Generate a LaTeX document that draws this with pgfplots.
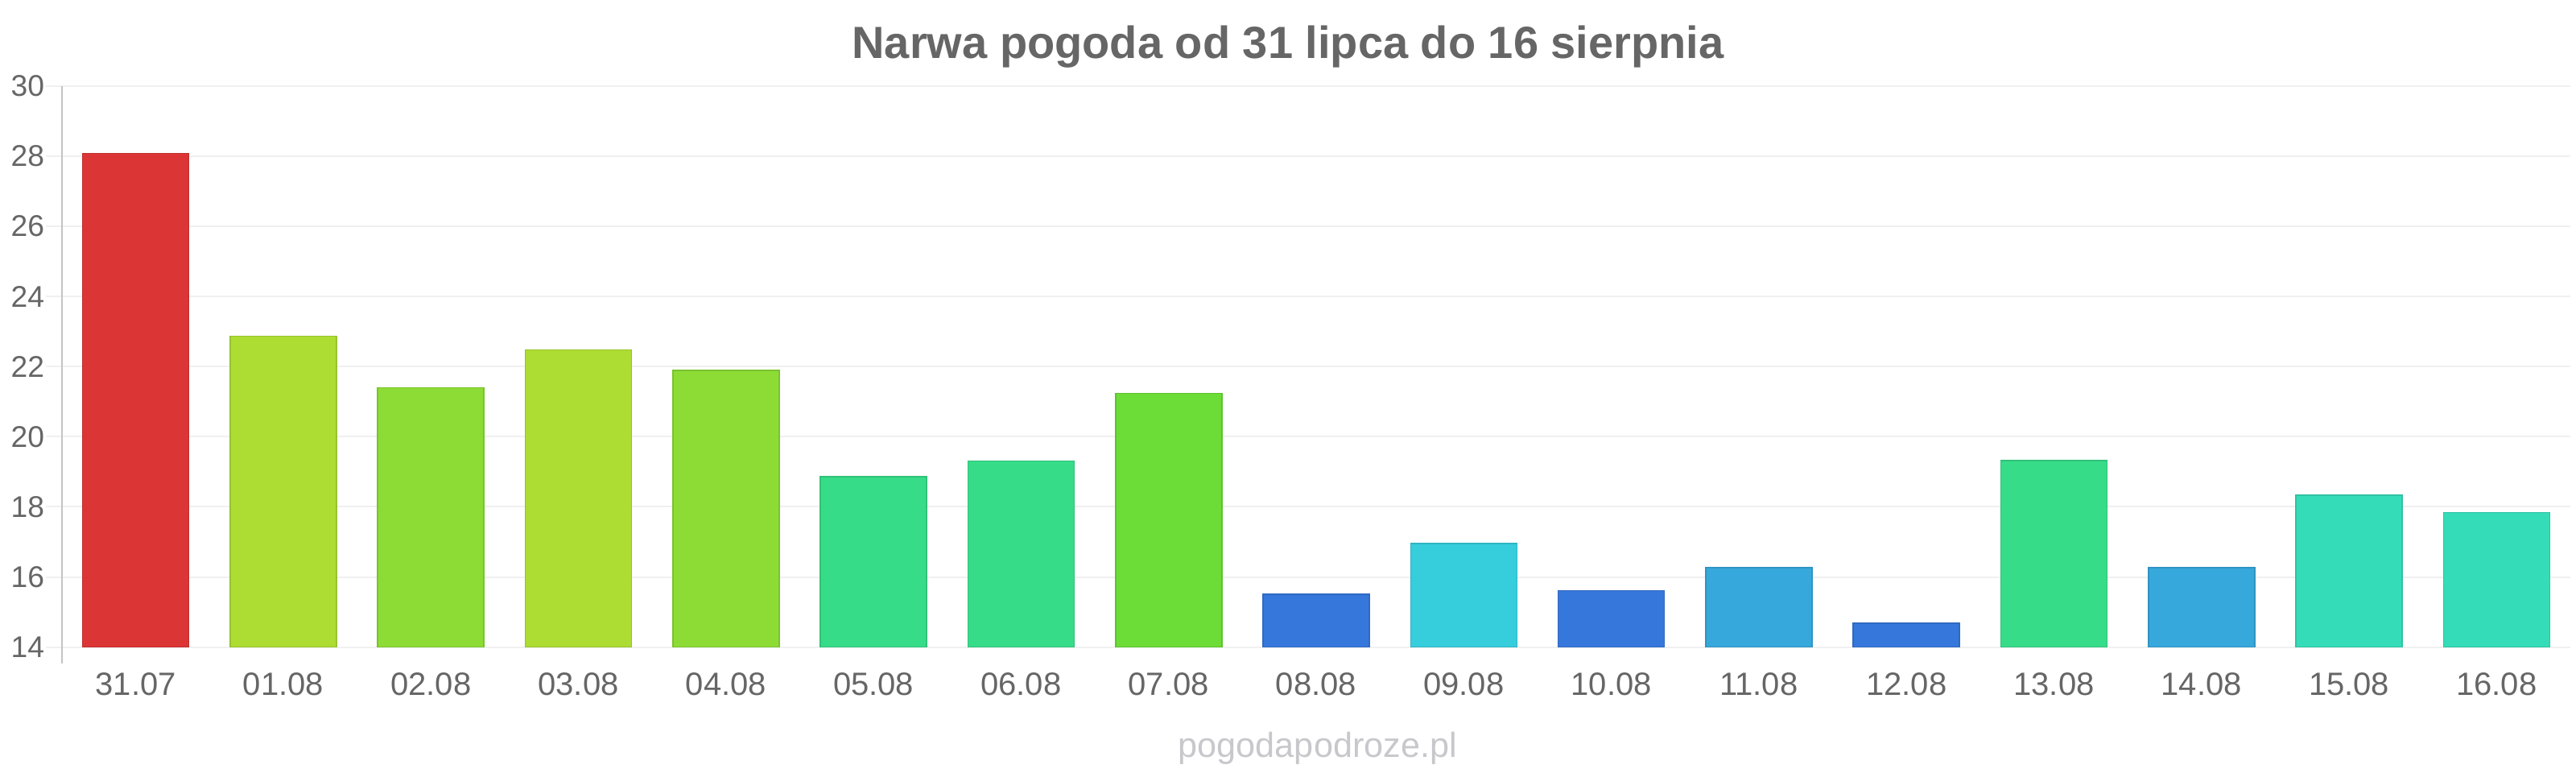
\documentclass[border=0pt]{standalone}
\usepackage{fontspec}
\setmainfont{Liberation Sans}
\usepackage{pgfplots}
\pgfplotsset{compat=1.18}
\definecolor{txt}{HTML}{666666}
\definecolor{gridc}{HTML}{F0F0F0}
\definecolor{axc}{HTML}{C4C4C4}
\definecolor{wm}{HTML}{C8C8CC}
\definecolor{cRed}{RGB}{220,53,53}
\definecolor{cYG}{RGB}{173,220,51}
\definecolor{cLG}{RGB}{140,220,53}
\definecolor{cG}{RGB}{108,220,55}
\definecolor{cSea}{RGB}{55,220,137}
\definecolor{cTeal}{RGB}{53,220,184}
\definecolor{cCyan}{RGB}{54,205,220}
\definecolor{cSky}{RGB}{55,168,220}
\definecolor{cBlue}{RGB}{54,119,220}
\pgfplotsset{
  tbar/.style={fill=#1, draw=#1!88!black, line width=0.4pt},
}
\begin{document}
\begin{tikzpicture}
\useasboundingbox (0,0) rectangle (800pt,240pt);
\fill[white] (0,0) rectangle (800pt,240pt);
\begin{axis}[
  at={(19.25pt,39.1pt)}, anchor=south west,
  scale only axis, width=779pt, height=174.15pt,
  xmin=-0.5, xmax=16.5, ymin=14, ymax=30,
  ytick={14,16,...,30},
  xtick={0,1,...,16},
  xticklabels={31.07,01.08,02.08,03.08,04.08,05.08,06.08,07.08,08.08,09.08,10.08,11.08,12.08,13.08,14.08,15.08,16.08},
  ybar, bar width=0.72, bar shift=0pt,
  axis line style={draw=none},
  ymajorgrids, grid style={gridc, line width=0.5pt},
  tick align=outside, major tick length=5pt,
  ytick style={gridc, line width=0.5pt},
  xtick style={draw=none},
  tick pos=left,
  /pgf/number format/assume math mode=true,
  yticklabel style={font=\fontsize{9.3}{11}\selectfont, text=txt, inner sep=0pt, anchor=east, xshift=-0.3pt},
  xticklabel style={font=\fontsize{10}{12}\selectfont, text=txt, inner sep=0pt, anchor=base, yshift=-10pt},
]
\addplot[tbar=cRed]  coordinates {(0,28.08)};
\addplot[tbar=cYG]   coordinates {(1,22.87)};
\addplot[tbar=cLG]   coordinates {(2,21.40)};
\addplot[tbar=cYG]   coordinates {(3,22.48)};
\addplot[tbar=cLG]   coordinates {(4,21.89)};
\addplot[tbar=cSea]  coordinates {(5,18.86)};
\addplot[tbar=cSea]  coordinates {(6,19.31)};
\addplot[tbar=cG]    coordinates {(7,21.24)};
\addplot[tbar=cBlue] coordinates {(8,15.50)};
\addplot[tbar=cCyan] coordinates {(9,16.95)};
\addplot[tbar=cBlue] coordinates {(10,15.61)};
\addplot[tbar=cSky]  coordinates {(11,16.26)};
\addplot[tbar=cBlue] coordinates {(12,14.68)};
\addplot[tbar=cSea]  coordinates {(13,19.32)};
\addplot[tbar=cSky]  coordinates {(14,16.26)};
\addplot[tbar=cTeal] coordinates {(15,18.33)};
\addplot[tbar=cTeal] coordinates {(16,17.84)};
\coordinate (yt) at (rel axis cs:0,1);
\coordinate (yb) at (rel axis cs:0,0);
\end{axis}
\draw[axc, line width=0.6pt] (yt) -- ([yshift=-5pt]yb);
\node[anchor=base, text=txt, font=\bfseries\fontsize{14}{16}\selectfont, inner sep=0pt] at (400pt,221.75pt) {Narwa pogoda od 31 lipca do 16 sierpnia};
\node[anchor=base, text=wm, font=\fontsize{10.8}{13}\selectfont, inner sep=0pt] at (409.2pt,4.75pt) {pogodapodroze.pl};
\end{tikzpicture}
\end{document}
